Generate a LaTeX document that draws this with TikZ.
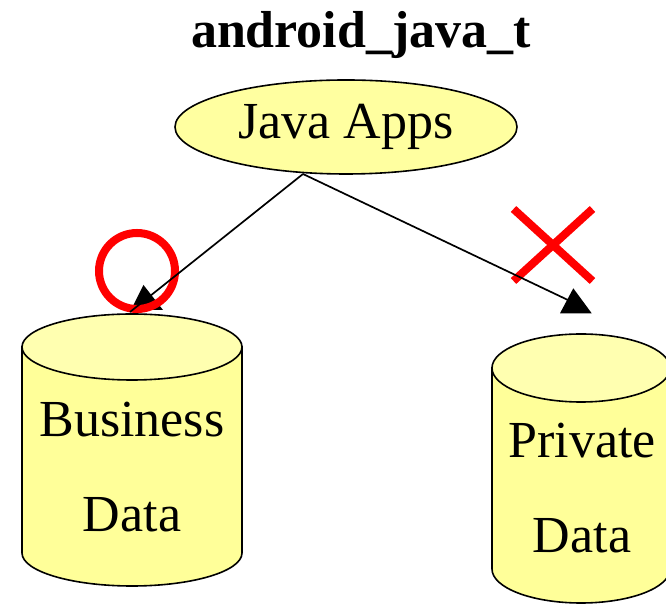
\documentclass[tikz,border=0pt]{standalone}
\usepackage{fontspec}
\setmainfont{Liberation Serif}
\usetikzlibrary{shapes.geometric,shapes.misc}
\definecolor{appfill}{RGB}{255,255,160}
\definecolor{dbbody}{RGB}{255,255,153}
\definecolor{dbtop}{RGB}{255,255,176}
\begin{document}
\begin{tikzpicture}[x=1pt,y=1pt,
  bigtext/.style={font=\fontsize{52}{52}\selectfont},
  titletext/.style={font=\fontsize{52}{52}\selectfont\bfseries, inner sep=0pt},
  app/.style={ellipse, draw=black, line width=1.6pt, fill=appfill,
    minimum width=342pt, minimum height=94pt, inner sep=0pt, bigtext},
  dbshape/.style={draw=black, line width=1.6pt},
  dbtext/.style={bigtext, inner sep=0pt, anchor=base},
  link/.style={draw=black, line width=1.7pt},
  tiphead/.style={fill=black},
  okmark/.style={circle, draw=red, line width=8pt, minimum size=76pt, inner sep=0pt},
  nomark/.style={cross out, draw=red, line width=8pt, minimum width=71pt,
    minimum height=64pt, inner sep=0pt}]
\useasboundingbox (0,0) rectangle (666,604);

% title and source process
\node[titletext, anchor=base] (title) at (361,556) {android\_java\_t};
\node[app] (apps) at (346,477) {Java Apps};
\coordinate (fork) at (303,430);

% business data store
\filldraw[dbshape, fill=dbbody] (22,257) -- (22,51)
  arc[start angle=180, end angle=360, x radius=110, y radius=33] -- (242,257) -- cycle;
\filldraw[dbshape, fill=dbtop] (132,257) ellipse[x radius=110, y radius=33];
\node[dbtext] (biz) at (132,167) {Business};
\node[dbtext] (bizdata) at (132,72) {Data};
\coordinate (biztop) at (130,292);

% private data store
\filldraw[dbshape, fill=dbbody] (492,236) -- (492,35)
  arc[start angle=180, end angle=360, x radius=89, y radius=34] -- (670,236) -- cycle;
\filldraw[dbshape, fill=dbtop] (581,236) ellipse[x radius=89, y radius=34];
\node[dbtext] (priv) at (582,146) {Private};
\node[dbtext] (privdata) at (582,51) {Data};
\coordinate (privtop) at (570,303);

% heads of the access connectors
\fill[tiphead] (143.5,319) -- (131,294) -- (163,294) -- cycle;
\fill[tiphead] (573.3,315.7) -- (560,290.7) -- (591.7,290.7) -- cycle;

% allowed / denied marks
\node[okmark] (ok) at (137,333) {};
\node[nomark] (no) at (553,359) {};

% access connectors
\draw[link] (fork) -- (biztop);
\draw[link] (fork) -- (privtop);
\end{tikzpicture}
\end{document}
